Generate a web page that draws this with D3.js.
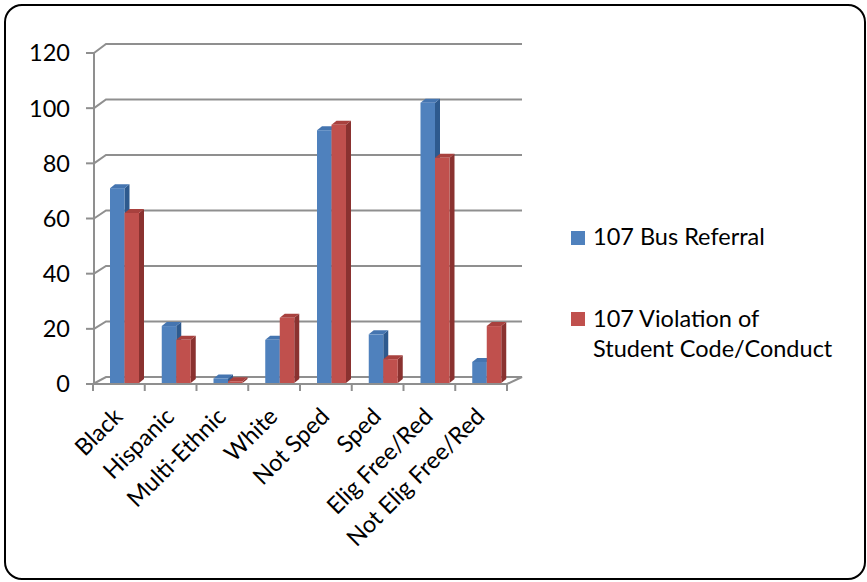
<!DOCTYPE html>
<html>
<head>
<meta charset="utf-8">
<script src="https://cdn.jsdelivr.net/npm/d3@7"></script>
<style>
  html, body { margin: 0; padding: 0; background: #fff; }
  svg text { font-family: Lato, "Open Sans", sans-serif; fill: #000; }
</style>
</head>
<body>
<svg id="chart" width="867" height="582"></svg>
<script>
// 3-D clustered columns, Office-2007 style.
const categories = ["Black", "Hispanic", "Multi-Ethnic", "White", "Not Sped", "Sped", "Elig Free/Red", "Not Elig Free/Red"];
const busReferral = [71, 21, 2, 16, 92, 18, 102, 8];
const violation = [62, 16, 1, 24, 94, 9, 82, 21];
const seriesNames = ["107 Bus Referral", "107 Violation of Student Code/Conduct"];
const yTicks = [0, 20, 40, 60, 80, 100, 120];

const svg = d3.select("#chart");
const FONT = 23.5;

// outer frame
svg.append("rect")
  .attr("x", 5).attr("y", 5).attr("width", 860).attr("height", 574)
  .attr("rx", 17).attr("ry", 17)
  .attr("fill", "#fff").attr("stroke", "#000").attr("stroke-width", 2);

// plot geometry: front plane and back wall
const x = d3.scaleBand().domain(categories).range([93, 507]);
const yFront = d3.scaleLinear().domain([0, 120]).range([384, 53]);
const yBack = d3.scaleLinear().domain([0, 120]).range([377, 44]);
const backX = 106, backRight = 522;
const grid = "#8f8f8f";

// floor
svg.append("path")
  .attr("d", `M93,${yFront(0)}L507,${yFront(0)}L${backRight},${yBack(0)}L${backX},${yBack(0)}Z`)
  .attr("fill", "#fff").attr("stroke", grid).attr("stroke-width", 2);

// gridlines (side wall diagonal + back wall horizontal)
svg.append("g").selectAll("path")
  .data(yTicks.filter(d => d > 0)).join("path")
  .attr("d", d => `M94,${yFront(d)}L${backX},${yBack(d)}L${backRight},${yBack(d)}`)
  .attr("fill", "none").attr("stroke", grid).attr("stroke-width", 2);

// left axis line
svg.append("line")
  .attr("x1", 94).attr("x2", 94).attr("y1", yFront(120)).attr("y2", yFront(0))
  .attr("stroke", grid).attr("stroke-width", 2);

// y ticks + labels
const yt = svg.append("g");
yt.selectAll("line").data(yTicks).join("line")
  .attr("x1", 86).attr("x2", 94).attr("y1", d => yFront(d)).attr("y2", d => yFront(d))
  .attr("stroke", grid).attr("stroke-width", 2);
yt.selectAll("text").data(yTicks).join("text")
  .attr("x", 70).attr("y", d => yFront(d)).attr("dy", "0.36em")
  .attr("text-anchor", "end").attr("font-size", FONT)
  .text(d => d);

// category ticks under the floor
svg.append("g").selectAll("line")
  .data(d3.range(categories.length + 1)).join("line")
  .attr("x1", i => 93 + i * x.step()).attr("x2", i => 93 + i * x.step())
  .attr("y1", yFront(0)).attr("y2", yFront(0) + 7)
  .attr("stroke", grid).attr("stroke-width", 2);

// bars
const BW = 14.5, DX = 5, DY = 4, PAD = 17;
const styles = [
  { front: "#4F81BD", top: "#4575B0", side: "#2E5A8E" },
  { front: "#C0504D", top: "#A8413E", side: "#8A3230" },
];
function bar(g, x0, v, st) {
  const yt = yFront(v), yb = yFront(0) - 1;
  g.append("path")
    .attr("d", `M${x0 + BW},${yt}L${x0 + BW + DX},${yt - DY}L${x0 + BW + DX},${yb - DY}L${x0 + BW},${yb}Z`)
    .attr("fill", st.side);
  g.append("path")
    .attr("d", `M${x0},${yt}L${x0 + BW},${yt}L${x0 + BW + DX},${yt - DY}L${x0 + DX},${yt - DY}Z`)
    .attr("fill", st.top);
  g.append("rect")
    .attr("x", x0).attr("y", yt).attr("width", BW).attr("height", yb - yt)
    .attr("fill", st.front);
}
const bars = svg.append("g");
categories.forEach((c, i) => {
  const x0 = x(c) + PAD;
  bar(bars, x0, busReferral[i], styles[0]);
  bar(bars, x0 + BW, violation[i], styles[1]);
});

// category labels, rotated 45°
svg.append("g").selectAll("text")
  .data(categories).join("text")
  .attr("transform", d => `translate(${x(d) + x.bandwidth() / 2 + 5},${yFront(0) + 34}) rotate(-45)`)
  .attr("text-anchor", "end").attr("font-size", FONT)
  .text(d => d);

// legend
const lg = svg.append("g");
lg.append("rect").attr("x", 571).attr("y", 231).attr("width", 14).attr("height", 14).attr("fill", styles[0].front);
lg.append("text").attr("x", 593).attr("y", 245).attr("font-size", FONT).text(seriesNames[0]);
lg.append("rect").attr("x", 571).attr("y", 312).attr("width", 14).attr("height", 14).attr("fill", styles[1].front);
lg.append("text").attr("x", 593).attr("y", 327).attr("font-size", FONT).text("107 Violation of");
lg.append("text").attr("x", 593).attr("y", 357).attr("font-size", FONT).text("Student Code/Conduct");
</script>
</body>
</html>
